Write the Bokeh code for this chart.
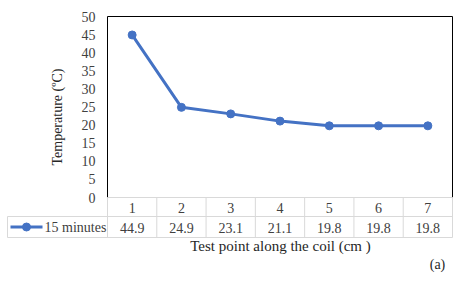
import math
from bokeh.plotting import figure
from bokeh.models import Range1d, FixedTicker
from bokeh.core.properties import value
from bokeh.embed import file_html
from bokeh.resources import INLINE

# ---- data ----
test_points = [1, 2, 3, 4, 5, 6, 7]
temp_15min = [44.9, 24.9, 23.1, 21.1, 19.8, 19.8, 19.8]
series_name = "15 minutes"
y_ticks = [0, 5, 10, 15, 20, 25, 30, 35, 40, 45, 50]
y_title = "Temperature (\u00baC)"
x_title = "Test point along the coil (cm )"
panel_label = "(a)"

FONT = "Liberation Serif"
TXT = "#404040"
TITLE_TXT = "#262626"
BLUE = "#4472C4"
GRID = "#D9D9D9"

# ---- layout in pixels of the picture ----
W, H = 461, 290
F_L, F_R = 107, 452          # chart frame left / right
Y50, Y0 = 16, 197            # pixel rows of y=50 and y=0
ROW1, ROW2 = 216, 237        # table row boundaries
TBL_L = 7                    # left edge of the series-name cell

colw = (F_R - F_L) / 7.0
ppu = (Y0 - Y50) / 50.0
def X(px):
    return 0.5 + (px - F_L) / colw
def Y(py):
    return (Y0 - py) / ppu

p = figure(width=W, height=H, output_backend="svg", toolbar_location=None,
           x_range=Range1d(X(0), X(W)), y_range=Range1d(Y(H), Y(0)),
           x_axis_location=None, min_border=0)
p.grid.visible = False
p.outline_line_color = None

ya = p.yaxis[0]
ya.fixed_location = 0.5
ya.ticker = FixedTicker(ticks=y_ticks)
ya.major_tick_line_color = None
ya.minor_tick_line_color = None
ya.major_tick_out = 0
ya.major_tick_in = 0
ya.axis_line_color = None
ya.major_label_text_font = FONT
ya.major_label_text_font_size = "14px"
ya.major_label_text_color = TXT
ya.major_label_standoff = 12

# axis title
p.text(x=[X(57)], y=[Y(116.5)], text=[y_title], angle=math.pi / 2,
       text_font=value(FONT), text_font_size="14px", text_color=TITLE_TXT,
       text_align="center", text_baseline="middle")

# chart frame: left, right, top (black)
p.segment(x0=[0.5, 7.5, 0.5], y0=[0, 0, 50], x1=[0.5, 7.5, 7.5], y1=[50, 50, 50],
          line_color="black", line_width=1)

# data table grid
edges = [v - 0.5 for v in test_points] + [test_points[-1] + 0.5]
p.segment(x0=edges, y0=[0] * len(edges), x1=edges, y1=[Y(ROW2)] * len(edges),
          line_color=GRID, line_width=1)
p.segment(x0=[0.5, X(TBL_L), X(TBL_L), X(TBL_L)],
          y0=[0, Y(ROW1), Y(ROW2), Y(ROW1)],
          x1=[7.5, 7.5, 7.5, X(TBL_L)],
          y1=[0, Y(ROW1), Y(ROW2), Y(ROW2)],
          line_color=GRID, line_width=1)

# series
p.line(test_points, temp_15min, line_color=BLUE, line_width=3)
p.scatter(test_points, temp_15min, size=8, fill_color=BLUE, line_color=BLUE)

# table texts
row1_y = Y((Y0 + ROW1) / 2 + 0.5)
row2_y = Y((ROW1 + ROW2) / 2 + 0.5)
p.text(x=test_points, y=[row1_y] * 7, text=[str(v) for v in test_points],
       text_font=value(FONT), text_font_size="14px", text_color=TXT,
       text_align="center", text_baseline="middle")
p.text(x=test_points, y=[row2_y] * 7, text=[f"{v:.1f}" for v in temp_15min],
       text_font=value(FONT), text_font_size="14px", text_color=TXT,
       text_align="center", text_baseline="middle")

# series key in the table
key_y = Y((ROW1 + ROW2) / 2)
p.line(x=[X(10), X(42)], y=[key_y, key_y], line_color=BLUE, line_width=3)
p.scatter(x=[X(26)], y=[key_y], size=8, fill_color=BLUE, line_color=BLUE)
p.text(x=[X(44)], y=[row2_y], text=[series_name],
       text_font=value(FONT), text_font_size="14px", text_color=TXT,
       text_align="left", text_baseline="middle")

# x-axis title and panel label
p.text(x=[X(280)], y=[Y(245)], text=[x_title],
       text_font=value(FONT), text_font_size="15px", text_color=TITLE_TXT,
       text_align="center", text_baseline="middle")
p.text(x=[X(437)], y=[Y(264)], text=[panel_label],
       text_font=value(FONT), text_font_size="14px", text_color=TITLE_TXT,
       text_align="center", text_baseline="middle")

open("out.html", "w").write(file_html(p, INLINE))
